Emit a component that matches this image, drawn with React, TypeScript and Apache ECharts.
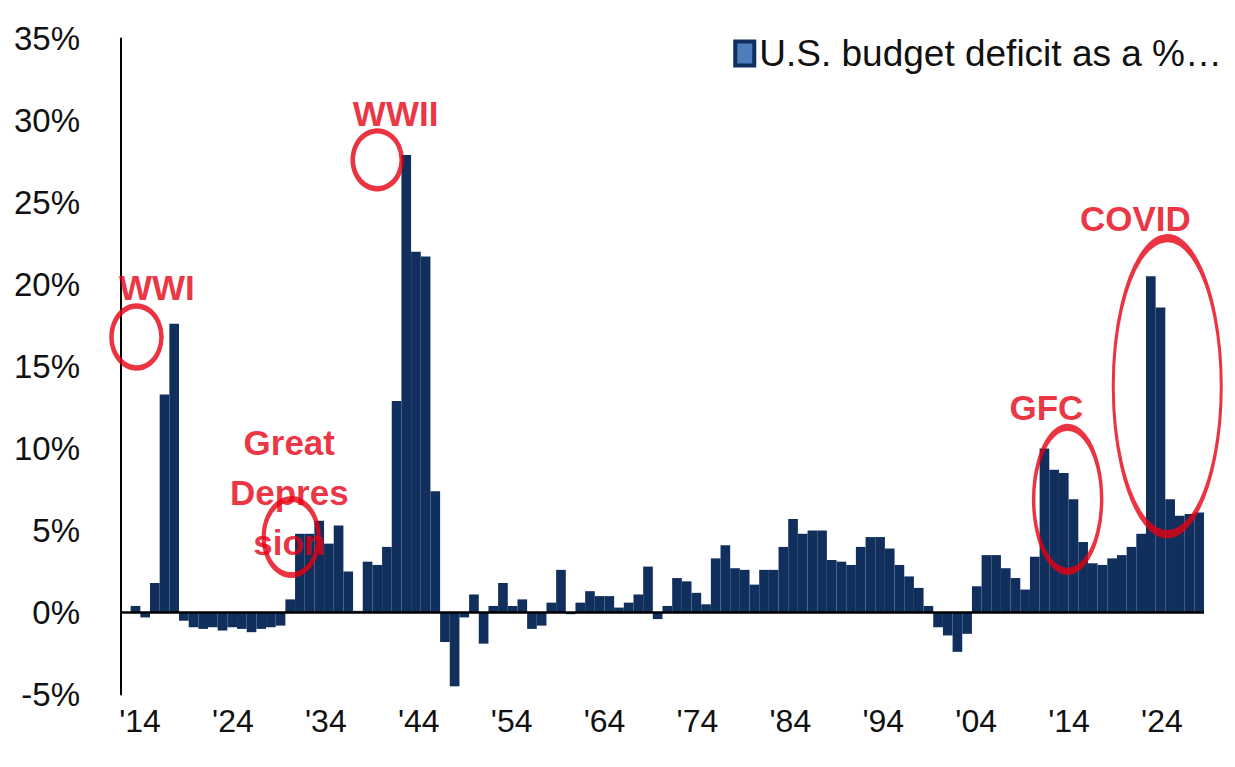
import React, { useEffect, useRef } from "react";
import * as echarts from "echarts";

// Fiscal years 1914 .. 2025
const years: number[] = Array.from({ length: 112 }, (_, i) => 1914 + i);

// U.S. budget deficit as a % of GDP (positive = deficit)
const deficit: number[] = [
  0.0, 0.4, -0.3, 1.8, 13.3, 17.6, -0.5, -0.9, -1.0, -0.9, // 1914-1923
  -1.1, -0.9, -1.0, -1.2, -1.0, -0.9, -0.8, 0.8, 4.8, 4.8, // 1924-1933
  5.6, 4.2, 5.3, 2.5, 0.1, 3.1, 2.9, 4.0, 12.9, 27.9, // 1934-1943
  22.0, 21.7, 7.4, -1.8, -4.5, -0.3, 1.1, -1.9, 0.4, 1.8, // 1944-1953
  0.4, 0.8, -1.0, -0.8, 0.6, 2.6, -0.1, 0.6, 1.3, 1.0, // 1954-1963
  1.0, 0.3, 0.6, 1.1, 2.8, -0.4, 0.4, 2.1, 1.9, 1.2, // 1964-1973
  0.5, 3.3, 4.1, 2.7, 2.6, 1.7, 2.6, 2.6, 4.0, 5.7, // 1974-1983
  4.8, 5.0, 5.0, 3.2, 3.1, 2.9, 4.0, 4.6, 4.6, 3.9, // 1984-1993
  2.9, 2.2, 1.5, 0.4, -0.9, -1.4, -2.4, -1.3, 1.6, 3.5, // 1994-2003
  3.5, 2.7, 2.1, 1.4, 3.4, 10.0, 8.7, 8.5, 6.9, 4.3, // 2004-2013
  3.0, 2.9, 3.3, 3.5, 4.0, 4.8, 20.5, 18.6, 6.9, 5.9, // 2014-2023
  6.0, 6.1, // 2024-2025
];

// Tick labels
const yTicks: number[] = [-5, 0, 5, 10, 15, 20, 25, 30, 35];
const xTickYears: number[] = [1914, 1924, 1934, 1944, 1954, 1964, 1974, 1984, 1994, 2004, 2014, 2024];
const seriesName = "U.S. budget deficit as a %…";

// Annotations (year, value) in data units
const noteTexts: string[] = ["WWI", "WWII", "Great\nDepres\nsion", "GFC", "COVID"];
const noteTextYear: number[] = [1917.2, 1941.9, 1930.9, 2009.2, 2018.4];
const noteTextValue: number[] = [19.8, 30.4, 7.3, 12.5, 24.0];

const ringYear: number[] = [1915.1, 1940.0, 1931.1, 2011.4, 2021.7];
const ringValue: number[] = [16.8, 27.6, 4.6, 6.9, 13.8];
const ringWidth: number[] = [50, 49, 55, 68, 108];
const ringHeight: number[] = [62, 58, 76, 144, 296];

const NAVY = "#112f5c";
const RED = "#e60012";

export default function App() {
  const ref = useRef<HTMLDivElement>(null);

  useEffect(() => {
    if (!ref.current) return;
    const chart = echarts.init(ref.current, undefined, { renderer: "svg" });

    const option: echarts.EChartsOption = {
      animation: false,
      backgroundColor: "#ffffff",
      textStyle: { fontFamily: "'Liberation Sans', Arial, sans-serif" },
      grid: { left: 121, right: 31, top: 38.5, bottom: 72.5, containLabel: false },
      legend: {
        data: [seriesName],
        right: 8,
        top: 30,
        icon: "rect",
        itemWidth: 19,
        itemHeight: 24,
        itemStyle: { color: "#4f7dbb", borderColor: NAVY, borderWidth: 4 },
        textStyle: { fontSize: 37, color: "#111" },
      },
      xAxis: [
        {
          type: "category",
          data: years.map(String),
          position: "bottom",
          boundaryGap: true,
          axisLine: { show: false },
          axisTick: { show: false },
          splitLine: { show: false },
          axisLabel: { show: false },
        },
        {
          type: "value",
          min: 1913.5,
          max: 2025.5,
          show: false,
        },
        {
          type: "value",
          position: "bottom",
          min: 1911.95,
          max: 2028.53,
          axisLine: { show: false },
          axisTick: { show: false },
          splitLine: { show: false },
          axisLabel: {
            customValues: xTickYears,
            margin: 10,
            fontSize: 32,
            color: "#111",
            fontFamily: "'Liberation Sans Narrow', 'Arial Narrow', 'Liberation Sans', sans-serif",
            formatter: (v: number) => "'" + String(Math.round(v)).slice(2),
          },
        } as any,
      ],
      yAxis: {
        type: "value",
        min: yTicks[0],
        max: yTicks[yTicks.length - 1],
        interval: 5,
        axisLine: { show: true, lineStyle: { color: "#000", width: 2 } },
        axisTick: { show: false },
        splitLine: { show: false },
        axisLabel: {
          margin: 41,
          fontSize: 33,
          color: "#111",
          formatter: "{value}%",
        },
      },
      series: [
        {
          name: seriesName,
          type: "bar",
          xAxisIndex: 0,
          data: deficit,
          barWidth: "100%",
          barCategoryGap: "0%",
          itemStyle: { color: NAVY },
          markLine: {
            silent: true,
            symbol: ["none", "none"],
            label: { show: false },
            lineStyle: { color: "#000", width: 2.5, type: "solid" },
            data: [{ yAxis: 0 }],
          },
        },
        {
          name: "rings",
          type: "scatter",
          xAxisIndex: 1,
          z: 5,
          symbol: "circle",
          itemStyle: { color: "rgba(0,0,0,0)", borderColor: RED, borderWidth: 5 },
          data: ringYear.map((y, i) => ({
            value: [y, ringValue[i]],
            symbolSize: [ringWidth[i], ringHeight[i]],
          })),
        },
        {
          name: "notes",
          type: "scatter",
          xAxisIndex: 1,
          z: 6,
          symbolSize: 1,
          itemStyle: { color: "rgba(0,0,0,0)" },
          label: {
            show: true,
            position: "inside",
            color: RED,
            fontWeight: "bold",
            fontSize: 35,
            lineHeight: 50,
            align: "center",
            verticalAlign: "middle",
            formatter: (p: any) => p.name,
          },
          data: noteTexts.map((t, i) => ({
            name: t,
            value: [noteTextYear[i], noteTextValue[i]],
          })),
        },
      ],
    };

    chart.setOption(option);
    return () => chart.dispose();
  }, []);

  return (
    <div
      ref={ref}
      style={{ position: "fixed", left: 0, top: 0, width: 1235, height: 767, background: "#fff" }}
    />
  );
}
